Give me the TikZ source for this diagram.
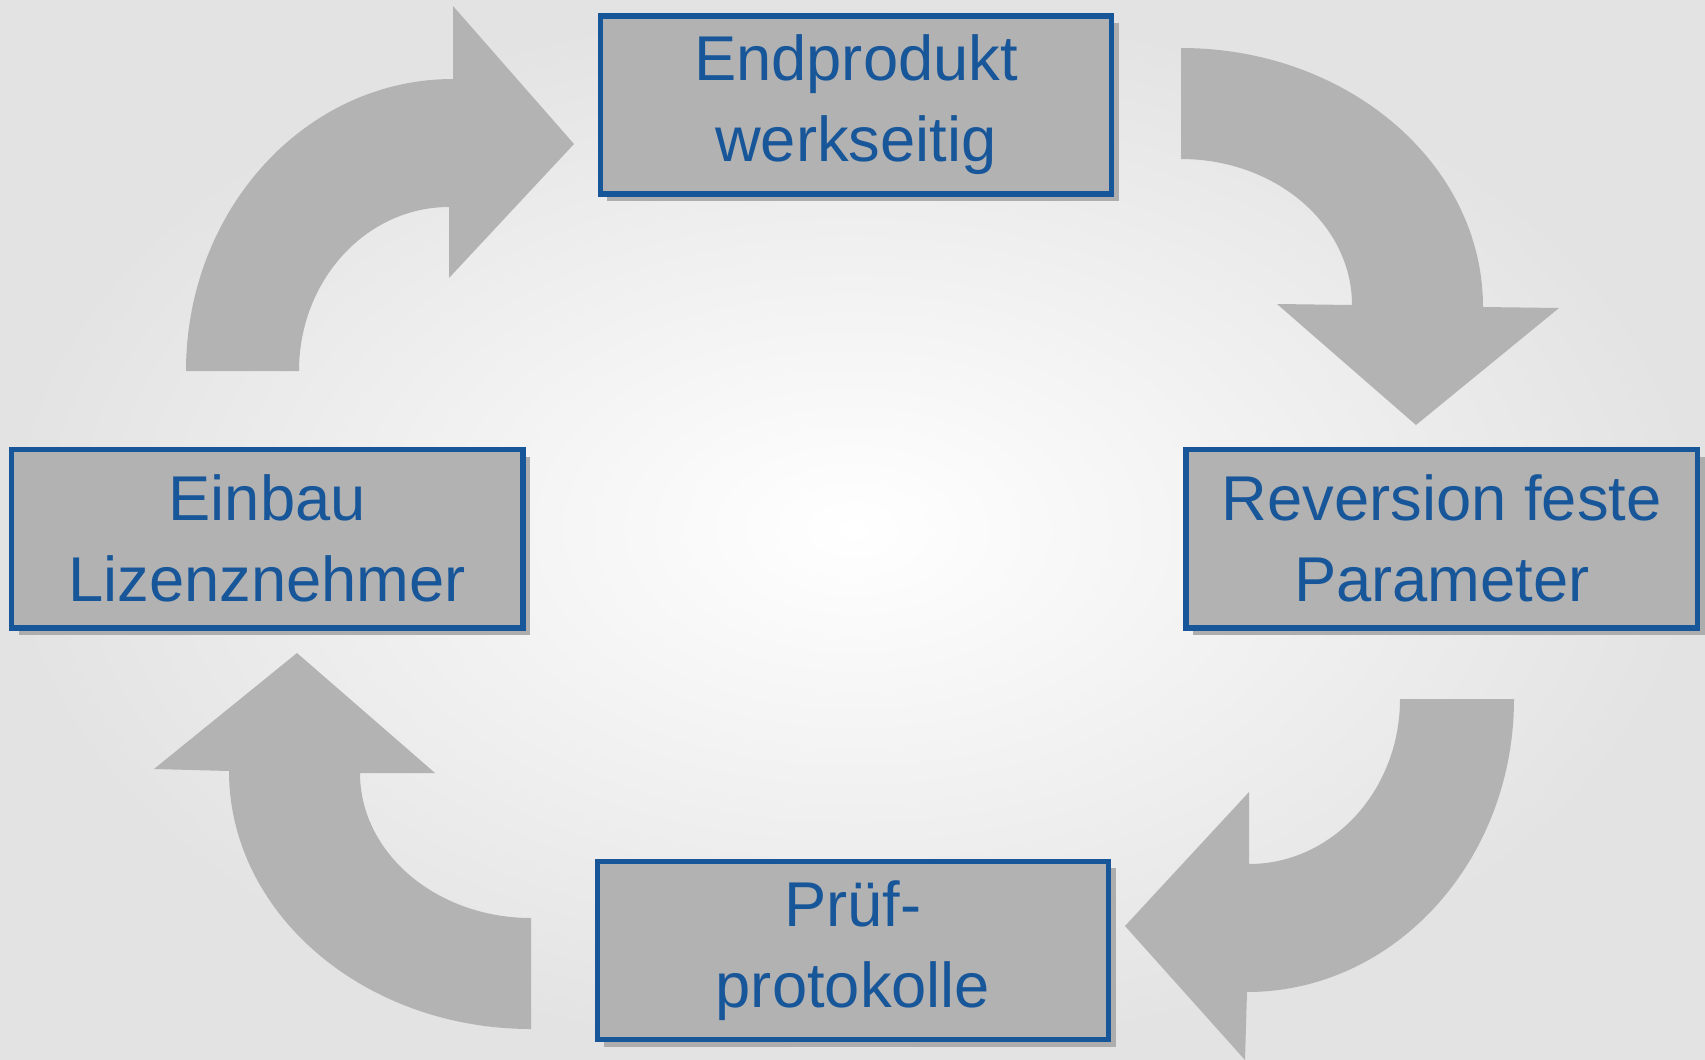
\documentclass[tikz,border=0pt]{standalone}
\usepackage{fontspec}
\setmainfont{Liberation Sans}
\usetikzlibrary{positioning,shadows}

\definecolor{boxblue}{RGB}{24,86,154}
\definecolor{boxgray}{RGB}{178,178,178}
\definecolor{arrowgray}{RGB}{179,179,179}

\begin{document}
\begin{tikzpicture}[x=0.01cm, y=0.01cm, align=center, node distance=2.5cm]

%local definitions
\tikzstyle{Stage} = [draw=boxblue, line width=0.055cm, fill=boxgray, rectangle, minimum width=5.11cm, minimum height=1.78cm, text=boxblue, font=\fontsize{18}{23}\selectfont, drop shadow={shadow xshift=0.07cm, shadow yshift=-0.07cm, fill=black!32, opacity=1}]
\tikzstyle{CycleArrow} = [fill=arrowgray, draw=none]

%background
\clip (0,0) rectangle (1705,1059);
\shade [inner color=white, outer color=black!11] (0,0) rectangle (1705,1059);

%main loop
	\node [Stage] (Endprodukt) at (856,954) {Endprodukt\\werkseitig};
	\node [Stage, below right=2.5cm and 0.69cm of Endprodukt] (Reversion) {Reversion feste\\Parameter};
	\node [Stage, below left=2.28cm and 0.72cm of Reversion] (Pruef) {Prüf-\\protokolle};
	\node [Stage, above left=2.28cm and 0.69cm of Pruef] (Einbau) {Einbau\\Lizenznehmer};

%connections
	% Einbau -> Endprodukt
	\fill [CycleArrow] (186,688) arc[start angle=180, end angle=90, x radius=267, y radius=292] -- (453,1053) -- (574,915) -- (449,781) -- (449,852) arc[start angle=90, end angle=180, x radius=150, y radius=164] -- cycle;
	% Endprodukt -> Reversion
	\fill [CycleArrow] (1181,1011) arc[start angle=90, end angle=0, x radius=302, y radius=259] -- (1559,751) -- (1416,634) -- (1277,755) -- (1352,754) arc[start angle=0, end angle=90, x radius=171, y radius=146] -- cycle;
	% Reversion -> Pruef
	\fill [CycleArrow] (1514,360) arc[start angle=0, end angle=-90, x radius=267, y radius=293] -- (1245,-1) -- (1125,133) -- (1249,267) -- (1249,195) arc[start angle=-90, end angle=0, x radius=151, y radius=165] -- cycle;
	% Pruef -> Einbau
	\fill [CycleArrow] (531,30) arc[start angle=270, end angle=180, x radius=302, y radius=258] -- (154,290) -- (297,406) -- (435,286) -- (360,286) arc[start angle=180, end angle=270, x radius=171, y radius=145] -- cycle;

\end{tikzpicture}
\end{document}
